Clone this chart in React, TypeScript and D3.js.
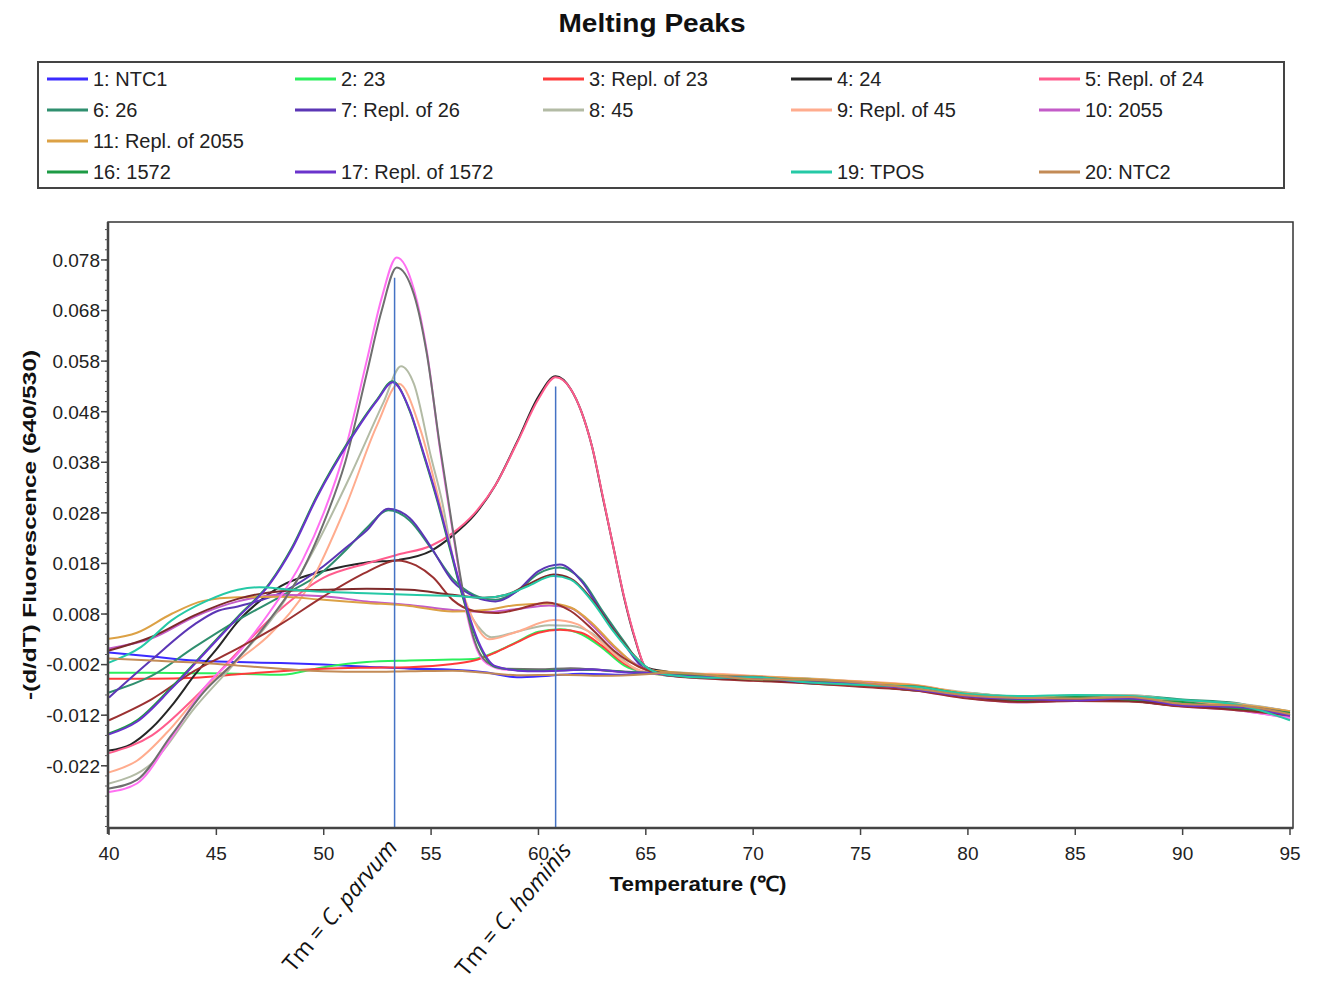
import React from "react";
import * as d3 from "d3";

const W = 1317;
const H = 987;

// Shared temperatures for the high-temperature tail, where every sample merges.
const tailTemps = [66, 68, 70, 72.5, 75, 77.5, 80, 82.5, 85, 87.5, 90, 92.5, 95];

// Head of each curve: [temperature °C, -(d/dT)], 40 °C to ~65 °C.
const ntc1Head = [[40, 0.0004], [42, -0.0004], [44, -0.0012], [46, -0.0015], [48, -0.0017], [50, -0.002], [52, -0.0024], [54, -0.0028], [56, -0.003], [57.5, -0.0035], [59, -0.0045], [60.5, -0.0042], [62, -0.0038], [64, -0.004], [65, -0.0036]];
const s23Head = [[40, -0.0036], [42, -0.0036], [44, -0.0037], [46, -0.0038], [48, -0.004], [50, -0.0025], [52, -0.0015], [54, -0.0012], [56, -0.001], [57, -0.0009], [58, 0.0005], [59, 0.0025], [60, 0.0045], [61, 0.005], [62, 0.004], [63, 0.0012], [64, -0.0022], [65, -0.0036]];
const r23Head = [[40, -0.0048], [42, -0.0048], [44, -0.0046], [46, -0.0039], [48, -0.0033], [50, -0.0028], [52, -0.0026], [54, -0.0025], [56, -0.0019], [57, -0.0012], [58, 0.0004], [59, 0.0024], [60, 0.0043], [61, 0.0049], [62, 0.0043], [63, 0.0016], [64, -0.0018], [65, -0.0035]];
const s24Head = [[40, -0.019], [41, -0.0178], [42, -0.0145], [43, -0.0097], [44, -0.004], [45, 0.001], [46, 0.0065], [47, 0.0105], [48, 0.0135], [50, 0.0165], [52, 0.0182], [53.5, 0.0187], [55, 0.0205], [56, 0.0235], [57, 0.0275], [58, 0.0335], [59, 0.042], [60, 0.051], [60.8, 0.055], [61.5, 0.0525], [62, 0.048], [62.5, 0.041], [63, 0.031], [63.5, 0.021], [64, 0.011], [64.5, 0.003], [65, -0.0025]];
const r24Head = [[40, -0.0195], [42, -0.016], [44, -0.0085], [46, 0.0005], [48, 0.009], [50, 0.0152], [52, 0.018], [53.5, 0.0198], [55, 0.0215], [56, 0.024], [57, 0.0278], [58, 0.0335], [59, 0.0418], [60, 0.0505], [60.8, 0.0548], [61.5, 0.0525], [62, 0.048], [62.5, 0.041], [63, 0.0312], [63.5, 0.021], [64, 0.0112], [64.5, 0.0032], [65, -0.0025]];
const s26Head = [[40, -0.0075], [42, -0.0042], [44, 0.0015], [46, 0.0068], [48, 0.0115], [50, 0.0165], [51, 0.0205], [52, 0.025], [53, 0.0285], [54, 0.0265], [55, 0.021], [56, 0.015], [57, 0.0118], [58, 0.0108], [59, 0.0125], [60, 0.016], [61, 0.0172], [62, 0.0148], [63, 0.0085], [64, 0.0025], [65, -0.003]];
const r26Head = [[40, -0.0085], [42, -0.001], [44, 0.006], [45, 0.0085], [46, 0.0095], [48, 0.0122], [50, 0.0175], [51, 0.021], [52, 0.0245], [53, 0.0288], [54, 0.027], [55, 0.0212], [56, 0.0145], [57, 0.0115], [58, 0.0105], [59, 0.0125], [60, 0.0165], [61, 0.0178], [62, 0.0145], [63, 0.008], [64, 0.002], [65, -0.003]];
const s45Head = [[40, -0.0255], [42, -0.0215], [44, -0.0105], [46, -0.001], [48, 0.0095], [49.7, 0.022], [51.2, 0.035], [52.8, 0.05], [53.6, 0.057], [54.2, 0.0535], [55, 0.039], [55.5, 0.0305], [56, 0.0195], [56.6, 0.01], [57.2, 0.0055], [57.8, 0.0034], [59, 0.0045], [60.5, 0.0058], [61.5, 0.0057], [62.5, 0.0042], [63.5, 0.0005], [65, -0.0035]];
const r45Head = [[40, -0.0233], [41.3, -0.021], [42.9, -0.0145], [44.4, -0.007], [46, -0.0012], [47.5, 0.004], [49.3, 0.0135], [51, 0.029], [52.5, 0.0455], [53.5, 0.0535], [54.5, 0.0445], [55.4, 0.03], [56.2, 0.016], [56.9, 0.0075], [57.7, 0.003], [59, 0.0045], [60.7, 0.0068], [61.8, 0.006], [62.8, 0.0028], [64, -0.0015], [65, -0.0035]];
const s2055Head = [[40, 0.0012], [42, 0.0032], [44, 0.0075], [46, 0.0105], [48, 0.0118], [50, 0.0115], [52, 0.0105], [54, 0.0098], [56, 0.0088], [57.5, 0.0084], [59, 0.009], [60.5, 0.0097], [61.5, 0.0092], [62.5, 0.0058], [63.5, 0.0015], [65, -0.003]];
const r2055Head = [[40, 0.0031], [41.3, 0.0043], [42.9, 0.008], [44.4, 0.0106], [46, 0.0113], [48, 0.0114], [50, 0.0108], [52, 0.0102], [54, 0.0096], [56, 0.0085], [57.5, 0.0088], [59, 0.0098], [60.5, 0.0101], [61.5, 0.0093], [62.5, 0.0062], [63.5, 0.0018], [65, -0.003]];
const s12Head = [[40, -0.0272], [41.3, -0.0255], [42.9, -0.0165], [44.4, -0.0068], [46, 0.0002], [47.5, 0.0085], [49, 0.0185], [50, 0.028], [51, 0.0405], [52, 0.058], [52.7, 0.0705], [53.4, 0.0785], [54.2, 0.0722], [54.8, 0.06], [55.4, 0.041], [56, 0.0245], [56.5, 0.0115], [57, 0.0025], [57.6, -0.0018], [58.5, -0.003], [60, -0.003], [61.5, -0.0028], [63, -0.0032], [65, -0.0036]];
const s13Head = [[40, -0.0265], [41.3, -0.0248], [42.9, -0.016], [44.4, -0.0075], [46, -0.0008], [47.5, 0.007], [49, 0.0165], [50, 0.026], [51, 0.038], [52, 0.0555], [52.7, 0.068], [53.4, 0.0765], [54.2, 0.0712], [54.8, 0.0595], [55.4, 0.0415], [56, 0.025], [56.5, 0.0122], [57, 0.003], [57.6, -0.0015], [58.5, -0.0028], [60, -0.0029], [61.5, -0.0027], [63, -0.0031], [65, -0.0036]];
const s14Head = [[40, -0.013], [42, -0.0088], [44, -0.0032], [46, 0.0012], [48, 0.006], [50, 0.0115], [52, 0.0163], [53.4, 0.0186], [54.3, 0.0176], [55.1, 0.0152], [56, 0.0108], [57, 0.0086], [58, 0.0082], [59, 0.0089], [60.4, 0.0103], [61.5, 0.0086], [62.5, 0.005], [63.5, 0.0008], [65, -0.003]];
const s15Head = [[40, 0.0008], [42, 0.0035], [44, 0.0078], [46, 0.011], [48, 0.0125], [50, 0.0128], [52, 0.013], [54, 0.0128], [56, 0.0118], [57.5, 0.0112], [58.5, 0.0118], [59.5, 0.0138], [60.7, 0.0158], [61.5, 0.015], [62.5, 0.0108], [63.5, 0.0048], [64.5, -0.0004], [65.2, -0.003]];
const s1572Head = [[40, -0.0156], [41.3, -0.013], [42.9, -0.0065], [44.4, 0.0002], [46, 0.0075], [47.5, 0.0142], [48.5, 0.021], [49.7, 0.0315], [51.2, 0.0425], [52.5, 0.0505], [53.2, 0.054], [54, 0.0482], [54.6, 0.0402], [55.3, 0.0302], [55.9, 0.0205], [56.5, 0.011], [57.2, 0.0022], [58, -0.0025], [59.5, -0.0032], [61, -0.0031], [62.5, -0.003], [64, -0.0034], [65, -0.0036]];
const r1572Head = [[40, -0.0158], [41.3, -0.0133], [42.9, -0.0068], [44.4, 0.0], [46, 0.0073], [47.5, 0.014], [48.5, 0.0207], [49.7, 0.0312], [51.2, 0.0422], [52.5, 0.0503], [53.2, 0.0538], [54, 0.0484], [54.6, 0.0405], [55.3, 0.0306], [55.9, 0.021], [56.5, 0.0115], [57.2, 0.0026], [58, -0.0023], [59.5, -0.0033], [61, -0.0032], [62.5, -0.0029], [64, -0.0035], [65, -0.0036]];
const tposHead = [[40, -0.0016], [41.5, 0.0015], [42.9, 0.0067], [44.5, 0.0105], [46, 0.0128], [47, 0.0133], [48.5, 0.0128], [50, 0.0124], [52, 0.0121], [54, 0.0118], [56, 0.0116], [57.5, 0.0112], [58.5, 0.0118], [59.5, 0.0135], [60.7, 0.0155], [61.5, 0.0148], [62.5, 0.0105], [63.5, 0.0045], [64.5, -0.0005], [65.2, -0.003]];
const ntc2Head = [[40, -0.0008], [42, -0.0012], [44, -0.0016], [46, -0.0022], [48, -0.0028], [50, -0.0033], [52, -0.0034], [54, -0.0033], [56, -0.0032], [57.5, -0.0036], [59, -0.0041], [61, -0.004], [63, -0.0042], [65, -0.0039]];

// Tail values of each curve at tailTemps.
const ntc1Tail = [-0.0035, -0.0044, -0.005, -0.0049, -0.0062, -0.0062, -0.0085, -0.0091, -0.0082, -0.009, -0.0101, -0.01, -0.0113];
const s23Tail = [-0.0041, -0.0046, -0.0044, -0.0056, -0.0055, -0.007, -0.0076, -0.0085, -0.009, -0.0083, -0.0093, -0.0098, -0.0121];
const r23Tail = [-0.0038, -0.0041, -0.0051, -0.0052, -0.0055, -0.0068, -0.0084, -0.0086, -0.0089, -0.0092, -0.0095, -0.0108, -0.0114];
const s24Tail = [-0.0034, -0.0045, -0.0047, -0.0056, -0.0061, -0.0071, -0.0078, -0.0094, -0.0091, -0.0092, -0.0102, -0.0103, -0.0113];
const r24Tail = [-0.0037, -0.004, -0.0043, -0.0049, -0.0055, -0.0061, -0.0084, -0.0092, -0.0082, -0.0083, -0.0093, -0.0107, -0.0122];
const s26Tail = [-0.0042, -0.0046, -0.0045, -0.0057, -0.0062, -0.007, -0.0076, -0.0084, -0.0081, -0.0081, -0.0089, -0.0096, -0.0127];
const r26Tail = [-0.0039, -0.0041, -0.005, -0.005, -0.0063, -0.0063, -0.0084, -0.0091, -0.009, -0.0085, -0.0101, -0.0107, -0.012];
const s45Tail = [-0.0035, -0.0039, -0.0044, -0.0047, -0.0054, -0.0062, -0.0075, -0.0083, -0.0083, -0.008, -0.0092, -0.0097, -0.0112];
const r45Tail = [-0.004, -0.0038, -0.0042, -0.0048, -0.0053, -0.006, -0.0077, -0.0084, -0.0081, -0.0082, -0.0093, -0.0099, -0.0113];
const s2055Tail = [-0.0041, -0.0047, -0.0051, -0.0056, -0.0062, -0.0069, -0.0086, -0.0095, -0.0091, -0.0092, -0.0103, -0.011, -0.0125];
const r2055Tail = [-0.0034, -0.004, -0.0043, -0.0048, -0.0054, -0.0061, -0.0077, -0.0084, -0.0082, -0.0083, -0.0091, -0.0099, -0.0112];
const s12Tail = [-0.0039, -0.0045, -0.0049, -0.0055, -0.0056, -0.007, -0.0085, -0.0087, -0.009, -0.0091, -0.0094, -0.0109, -0.0126];
const s13Tail = [-0.0036, -0.0043, -0.0044, -0.0054, -0.0061, -0.0063, -0.0082, -0.009, -0.0084, -0.0089, -0.01, -0.0102, -0.0116];
const s14Tail = [-0.0041, -0.0048, -0.0052, -0.0057, -0.0064, -0.0071, -0.0087, -0.0094, -0.0092, -0.0093, -0.0103, -0.011, -0.012];
const s15Tail = [-0.0039, -0.0046, -0.005, -0.0055, -0.0058, -0.0068, -0.0083, -0.0092, -0.0089, -0.0091, -0.01, -0.0108, -0.0116];
const s1572Tail = [-0.0037, -0.0042, -0.0049, -0.005, -0.006, -0.0064, -0.0079, -0.009, -0.0084, -0.0089, -0.0094, -0.0106, -0.0115];
const r1572Tail = [-0.004, -0.0045, -0.0046, -0.0055, -0.0058, -0.0069, -0.0083, -0.0088, -0.0091, -0.0087, -0.0101, -0.0104, -0.0121];
const tposTail = [-0.004, -0.0046, -0.0045, -0.0055, -0.006, -0.0064, -0.0078, -0.0082, -0.008, -0.0082, -0.009, -0.0099, -0.013];
const ntc2Tail = [-0.0036, -0.0041, -0.0049, -0.005, -0.0056, -0.0067, -0.0081, -0.0086, -0.0087, -0.0084, -0.0098, -0.0101, -0.0118];

// Sample numbers, names (blank = not listed in the legend), and their data.
const sampleIds = [1, 2, 3, 4, 5, 6, 7, 8, 9, 10, 11, 12, 13, 14, 15, 16, 17, 19, 20];
const sampleNames = ["NTC1", "23", "Repl. of 23", "24", "Repl. of 24", "26", "Repl. of 26", "45", "Repl. of 45", "2055", "Repl. of 2055", "", "", "", "", "1572", "Repl. of 1572", "TPOS", "NTC2"];
const sampleHeads = [ntc1Head, s23Head, r23Head, s24Head, r24Head, s26Head, r26Head, s45Head, r45Head, s2055Head, r2055Head, s12Head, s13Head, s14Head, s15Head, s1572Head, r1572Head, tposHead, ntc2Head];
const sampleTails = [ntc1Tail, s23Tail, r23Tail, s24Tail, r24Tail, s26Tail, r26Tail, s45Tail, r45Tail, s2055Tail, r2055Tail, s12Tail, s13Tail, s14Tail, s15Tail, s1572Tail, r1572Tail, tposTail, ntc2Tail];
const sampleColors = ["#3b2bff", "#2bef5c", "#ff3b3b", "#262626", "#ff5c8d", "#2f8f6f", "#5b36b5", "#b3bba5", "#ffac8e", "#c35bc8", "#dca145", "#ff70f2", "#6f6f6f", "#9b3131", "#7d2a2a", "#1d9b45", "#6a33cc", "#25c9a6", "#c38b56"];

// Axis ticks and melting temperatures.
const xTicks = [40, 45, 50, 55, 60, 65, 70, 75, 80, 85, 90, 95];
const yTicks = [-0.022, -0.012, -0.002, 0.008, 0.018, 0.028, 0.038, 0.048, 0.058, 0.068, 0.078];
const tmLines = [
  { temp: 53.3, top: 0.0745, species: "C. parvum" },
  { temp: 60.8, top: 0.053, species: "C. hominis" },
];

const FONT = "'Liberation Sans', Arial, sans-serif";
const plot = { left: 108, right: 1293, top: 222, bottom: 828 };

export default function App() {
  const x = d3.scaleLinear().domain([40, 95]).range([plot.left + 1, plot.right - 3]);
  const y = d3.scaleLinear().domain([-0.0343, 0.0855]).range([plot.bottom, plot.top]);
  const line = d3
    .line<number[]>()
    .x((d) => x(d[0]))
    .y((d) => y(d[1]))
    .curve(d3.curveMonotoneX);
  const fmt = (v: number) => d3.format(".3f")(v).replace("\u2212", "-");
  const minorTicks = d3.range(-34, 86, 2).map((v) => v / 1000);

  const series = sampleIds.map((id, i) => ({
    id,
    name: sampleNames[i],
    color: sampleColors[i],
    points: sampleHeads[i].concat(tailTemps.map((t, j) => [t, sampleTails[i][j]])),
  }));

  // legend slot follows the sample number: 5 per row
  const legendItems = series.filter((s) => s.name !== "");
  const legX0 = 47;
  const legColStep = 248;
  const legY0 = 79;
  const legRowStep = 31;

  return (
    <svg
      width={W}
      height={H}
      style={{ position: "absolute", left: 0, top: 0, background: "#fff" }}
      fontFamily={FONT}
    >
      <rect width={W} height={H} fill="#fff" />
      <text x={652} y={32} textAnchor="middle" fontSize={25} fontWeight="bold" textLength={187} lengthAdjust="spacingAndGlyphs" fill="#111">
        Melting Peaks
      </text>

      {/* legend */}
      <rect x={38} y={62} width={1246} height={126} fill="none" stroke="#444" strokeWidth={2} />
      {legendItems.map((s) => {
        const col = (s.id - 1) % 5;
        const row = Math.floor((s.id - 1) / 5);
        const lx = legX0 + col * legColStep;
        const ly = legY0 + row * legRowStep;
        return (
          <g key={s.id}>
            <line x1={lx} x2={lx + 41} y1={ly} y2={ly} stroke={s.color} strokeWidth={3} />
            <text x={lx + 46} y={ly} dy="0.36em" fontSize={20} fill="#222">
              {`${s.id}: ${s.name}`}
            </text>
          </g>
        );
      })}

      {/* curves */}
      <g fill="none" strokeWidth={2} strokeLinejoin="round">
        {series.map((s) => (
          <path key={s.id} d={line(s.points) || ""} stroke={s.color} />
        ))}
      </g>

      {/* Tm markers */}
      {tmLines.map((t) => (
        <line key={t.temp} x1={x(t.temp)} x2={x(t.temp)} y1={y(t.top)} y2={plot.bottom} stroke="#4472c4" strokeWidth={1.5} />
      ))}

      {/* frame and axes */}
      <rect x={plot.left} y={plot.top} width={plot.right - plot.left} height={plot.bottom - plot.top} fill="none" stroke="#333" strokeWidth={1.5} />
      <line x1={plot.left} x2={plot.left} y1={plot.top} y2={plot.bottom + 6} stroke="#444" strokeWidth={2.5} />
      <line x1={plot.left} x2={plot.right} y1={plot.bottom} y2={plot.bottom} stroke="#444" strokeWidth={2.5} />

      {minorTicks.map((v) => (
        <line key={`m${v}`} x1={plot.left - 3} x2={plot.left} y1={y(v)} y2={y(v)} stroke="#555" strokeWidth={1} />
      ))}
      {yTicks.map((v) => (
        <g key={`y${v}`}>
          <line x1={plot.left - 7} x2={plot.left} y1={y(v)} y2={y(v)} stroke="#444" strokeWidth={1.5} />
          <text x={plot.left - 8} y={y(v)} dy="0.36em" textAnchor="end" fontSize={19} fill="#222">
            {fmt(v)}
          </text>
        </g>
      ))}
      {xTicks.map((v) => (
        <g key={`x${v}`}>
          <line x1={x(v)} x2={x(v)} y1={plot.bottom} y2={plot.bottom + 7} stroke="#444" strokeWidth={1.5} />
          <text x={x(v)} y={plot.bottom + 32} textAnchor="middle" fontSize={19} fill="#222">
            {v}
          </text>
        </g>
      ))}

      <text
        transform={`translate(36, 525) rotate(-90)`}
        textAnchor="middle"
        fontSize={19}
        fontWeight="bold"
        textLength={350}
        lengthAdjust="spacingAndGlyphs"
        fill="#111"
      >
        -(d/dT) Fluorescence (640/530)
      </text>
      <text x={698} y={891} textAnchor="middle" fontSize={21} fontWeight="bold" textLength={177} lengthAdjust="spacingAndGlyphs" fill="#111">
        Temperature (℃)
      </text>

      {/* Tm annotations */}
      {tmLines.map((t, i) => (
        <text
          key={`tm${t.temp}`}
          transform={`translate(${x(t.temp) + (i === 0 ? 4 : 17)}, ${plot.bottom + (i === 0 ? 20 : 23)}) rotate(-50)`}
          textAnchor="end"
          fontSize={23}
          fontFamily="'Open Sans', sans-serif"
          fill="#111"
        >
          Tm = <tspan fontStyle="italic">{t.species}</tspan>
        </text>
      ))}
    </svg>
  );
}
